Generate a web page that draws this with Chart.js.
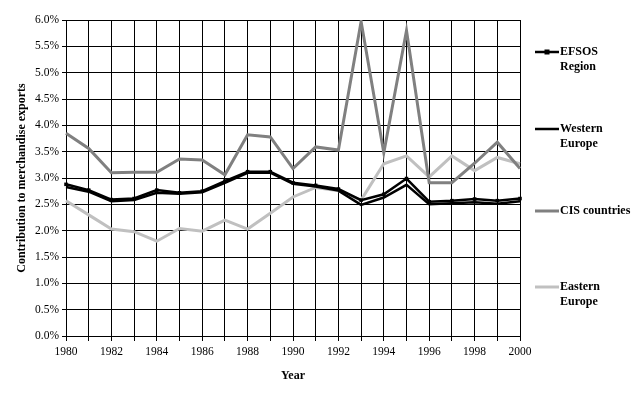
<!DOCTYPE html>
<html>
<head>
<meta charset="utf-8">
<script src="https://cdn.jsdelivr.net/npm/chart.js@4.4.0/dist/chart.umd.min.js"></script>
<style>
  html, body { margin: 0; padding: 0; background: #fff; }
  #wrap { width: 642px; height: 394px; position: relative; }
</style>
</head>
<body>
<div id="wrap"><canvas id="mycanvas" width="642" height="394"></canvas></div>
<script>
var years = ['1980','1981','1982','1983','1984','1985','1986','1987','1988','1989','1990',
             '1991','1992','1993','1994','1995','1996','1997','1998','1999','2000'];

var efsos   = [2.88, 2.77, 2.59, 2.61, 2.77, 2.72, 2.75, 2.94, 3.12, 3.12, 2.91, 2.86, 2.79, 2.58, 2.69, 2.99, 2.55, 2.57, 2.60, 2.57, 2.61];
var western = [2.83, 2.74, 2.56, 2.58, 2.72, 2.70, 2.73, 2.91, 3.10, 3.10, 2.89, 2.84, 2.76, 2.49, 2.63, 2.87, 2.50, 2.52, 2.54, 2.51, 2.56];
var cis     = [3.85, 3.56, 3.10, 3.11, 3.11, 3.36, 3.34, 3.06, 3.82, 3.78, 3.18, 3.59, 3.53, 5.97, 3.48, 5.80, 2.91, 2.91, 3.28, 3.68, 3.18];
var eastern = [2.57, 2.30, 2.03, 1.98, 1.80, 2.04, 1.99, 2.20, 2.03, 2.33, 2.64, 2.82, 2.76, 2.58, 3.27, 3.42, 3.02, 3.42, 3.14, 3.39, 3.27];

var legendLines = [['EFSOS', 'Region'], ['Western', 'Europe'], ['CIS countries'], ['Eastern', 'Europe']];
var legendY = [52, 129, 211, 287];

var serif = '"Liberation Serif", "Times New Roman", serif';

// titles and the right-hand legend
var extras = {
  id: 'extras',
  afterDraw: function(chart) {
    var ctx = chart.ctx;
    var area = chart.chartArea;
    ctx.save();
    ctx.fillStyle = '#000';
    ctx.font = 'bold 12px ' + serif;
    ctx.textAlign = 'center';
    ctx.textBaseline = 'middle';
    ctx.fillText('Year', (area.left + area.right) / 2, 376);
    ctx.translate(22, (area.top + area.bottom) / 2);
    ctx.rotate(-Math.PI / 2);
    ctx.fillText('Contribution to merchandise exports', 0, 0);
    ctx.restore();

    ctx.save();
    chart.data.datasets.forEach(function(ds, i) {
      var y = legendY[i];
      ctx.strokeStyle = ds.borderColor;
      ctx.lineWidth = ds.borderWidth;
      ctx.beginPath();
      ctx.moveTo(535, y);
      ctx.lineTo(559, y);
      ctx.stroke();
      if (ds.pointRadius > 0) {
        ctx.fillStyle = ds.borderColor;
        ctx.fillRect(547 - 2.5, y - 2.5, 5, 5);
      }
      ctx.fillStyle = '#000';
      ctx.font = 'bold 12px ' + serif;
      ctx.textAlign = 'left';
      ctx.textBaseline = 'middle';
      legendLines[i].forEach(function(t, k) {
        ctx.fillText(t, 560, y + k * 15);
      });
    });
    ctx.restore();
  }
};

var chartdata = {
  labels: years,
  datasets: [
    { label: 'EFSOS Region', data: efsos, borderColor: '#000', backgroundColor: '#000',
      borderWidth: 2.5, pointRadius: 2.5, pointStyle: 'rect', pointBorderWidth: 0 },
    { label: 'Western Europe', data: western, borderColor: '#000', backgroundColor: '#000',
      borderWidth: 2.5, pointRadius: 0 },
    { label: 'CIS countries', data: cis, borderColor: '#808080', backgroundColor: '#808080',
      borderWidth: 3, pointRadius: 0 },
    { label: 'Eastern Europe', data: eastern, borderColor: '#c0c0c0', backgroundColor: '#c0c0c0',
      borderWidth: 3, pointRadius: 0 }
  ]
};

var ctx = document.getElementById('mycanvas');

var lineGraph = new Chart(ctx, {
  type: 'line',
  data: chartdata,
  plugins: [extras],
  options: {
    responsive: false,
    animation: false,
    layout: { padding: { left: 0, right: 122, top: 20, bottom: 0 } },
    plugins: { legend: { display: false }, tooltip: { enabled: false } },
    elements: { line: { tension: 0 } },
    scales: {
      x: {
        type: 'category',
        offset: false,
        grid: { color: '#000', lineWidth: 1, offset: false, tickLength: 5 },
        border: { color: '#000', width: 1 },
        ticks: {
          autoSkip: false, maxRotation: 0, padding: 4, color: '#000',
          font: { family: serif, size: 11.5 },
          callback: function(v, i) { return i % 2 === 0 ? years[i] : ''; }
        },
        afterFit: function(scale) { scale.height = 58; }
      },
      y: {
        min: 0, max: 6,
        grid: { color: '#000', lineWidth: 1, tickLength: 4 },
        border: { color: '#000', width: 1 },
        ticks: {
          stepSize: 0.5, padding: 3, color: '#000',
          font: { family: serif, size: 11.5 },
          callback: function(v) { return v.toFixed(1) + '%'; }
        },
        afterFit: function(scale) { scale.width = 66; }
      }
    }
  }
});
</script>
</body>
</html>
